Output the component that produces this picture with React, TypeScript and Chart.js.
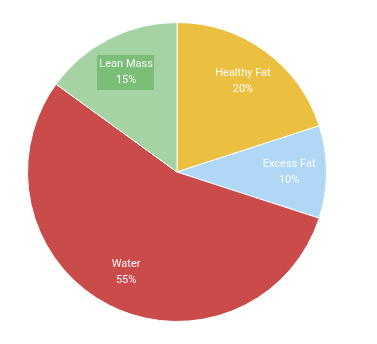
import React, { useEffect, useRef } from "react";
import { Chart, registerables } from "chart.js";

Chart.register(...registerables);

const categories = ["Healthy Fat", "Excess Fat", "Water", "Lean Mass"];
const values = [20, 10, 55, 15];
const colors = ["#EBC040", "#B0D7F6", "#C94B4A", "#A6D3A3"];
const highlighted = ["Lean Mass"];

const labelPlugin = {
  id: "sliceLabels",
  afterDatasetsDraw(chart: any) {
    const ctx = chart.ctx;
    const meta = chart.getDatasetMeta(0);
    ctx.save();
    ctx.font = "11px Roboto";
    ctx.textAlign = "center";
    ctx.textBaseline = "middle";
    meta.data.forEach((arc: any, i: number) => {
      const mid = (arc.startAngle + arc.endAngle) / 2;
      const r = arc.outerRadius * 0.75;
      const x = arc.x + Math.cos(mid) * r;
      const y = arc.y + Math.sin(mid) * r;
      const l1 = categories[i];
      const l2 = values[i] + "%";
      if (highlighted.includes(l1)) {
        const w = Math.max(ctx.measureText(l1).width, ctx.measureText(l2).width) + 4;
        ctx.fillStyle = "#7BBE77";
        ctx.fillRect(Math.round(x - w / 2), Math.round(y - 17.5), Math.round(w), 35);
      }
      ctx.fillStyle = "rgba(255,255,255,0.95)";
      ctx.fillText(l1, x, y - 8);
      ctx.fillText(l2, x, y + 8);
    });
    ctx.restore();
  },
};

export default function App() {
  const ref = useRef<HTMLCanvasElement>(null);
  useEffect(() => {
    const chart = new Chart(ref.current!, {
      type: "pie",
      data: {
        labels: categories,
        datasets: [
          {
            data: values,
            backgroundColor: colors,
            borderColor: "#ffffff",
            borderWidth: 1,
          },
        ],
      },
      options: {
        animation: false,
        responsive: true,
        maintainAspectRatio: false,
        layout: { padding: { left: 19, right: 42, top: 14, bottom: 14 } },
        plugins: { legend: { display: false }, tooltip: { enabled: false } },
      },
      plugins: [labelPlugin],
    });
    return () => chart.destroy();
  }, []);
  return (
    <div style={{ width: 361, height: 328, position: "relative" }}>
      <canvas ref={ref} />
    </div>
  );
}
